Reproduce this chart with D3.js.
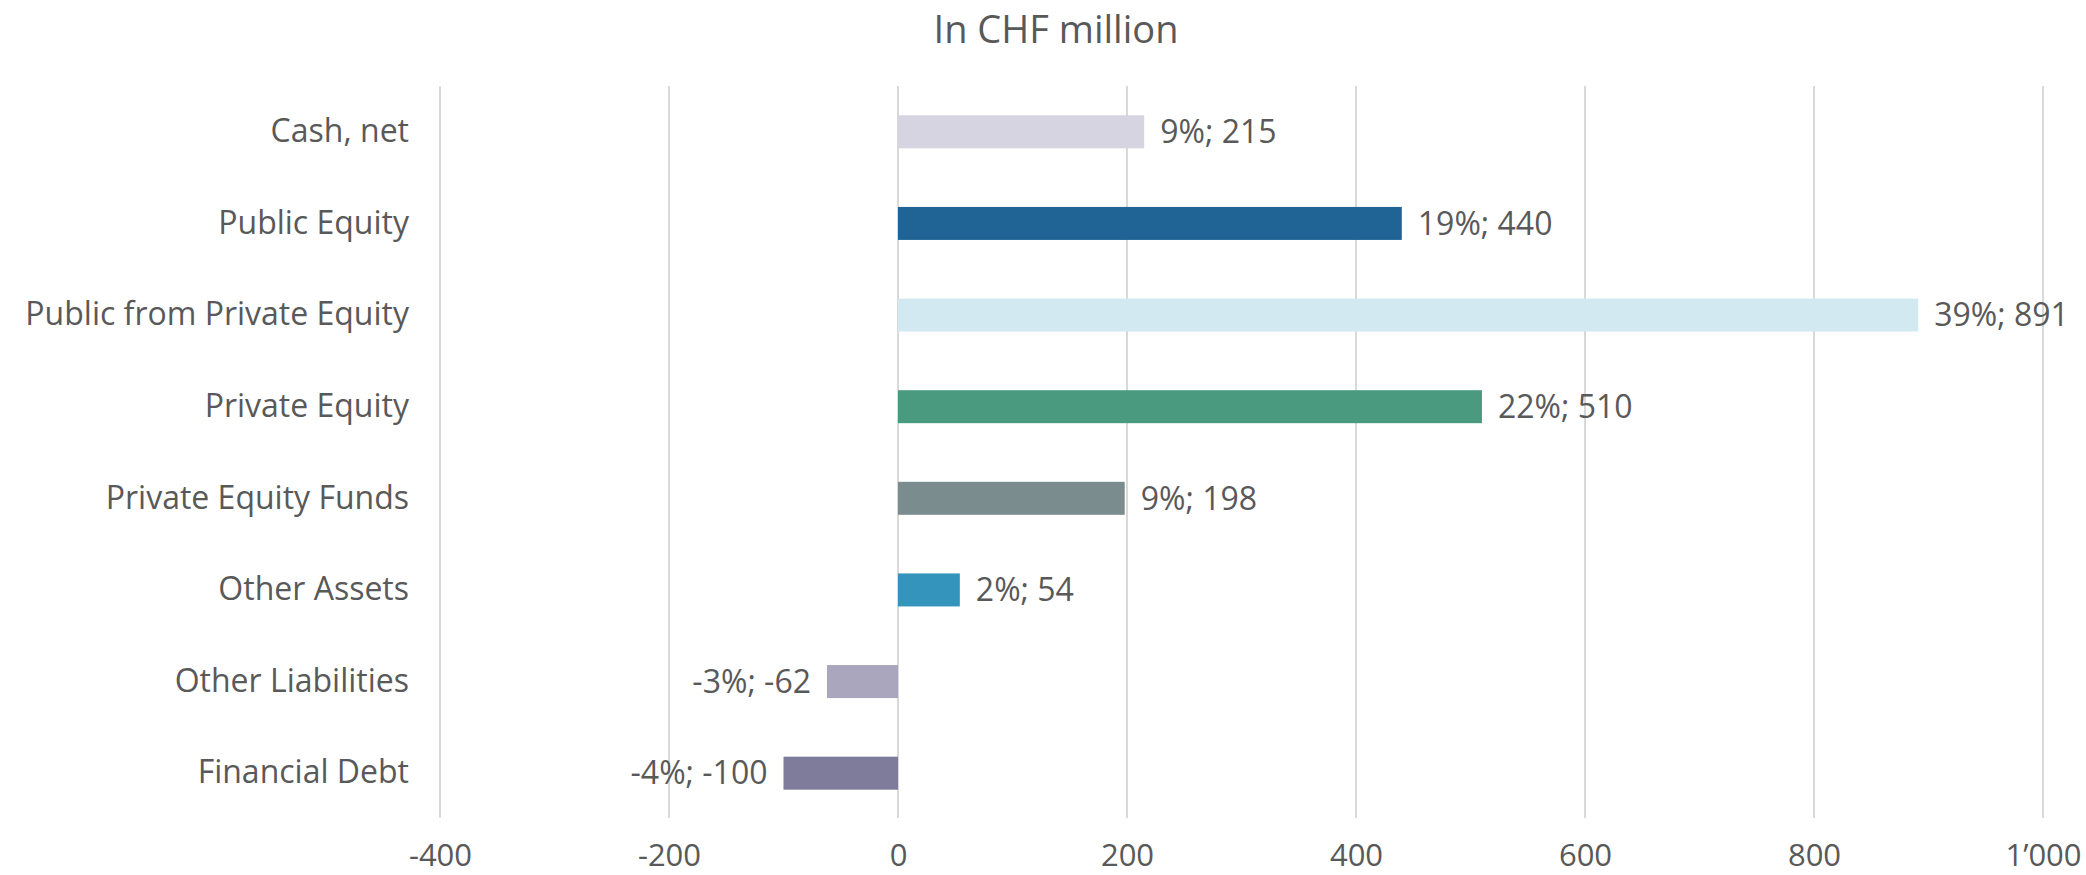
<!DOCTYPE html>
<html>
<head>
<meta charset="utf-8">
<script src="https://cdn.jsdelivr.net/npm/d3@7"></script>
<style>
  body { margin: 0; background: #fff; }
  text { font-family: "Open Sans", "Noto Sans", sans-serif; fill: #595959; }
</style>
</head>
<body>
<svg id="chart"></svg>
<script>
let categories = ['Cash, net', 'Public Equity', 'Public from Private Equity', 'Private Equity',
    'Private Equity Funds', 'Other Assets', 'Other Liabilities', 'Financial Debt'];
let values = [215, 440, 891, 510, 198, 54, -62, -100];
let shares = [9, 19, 39, 22, 9, 2, -3, -4];
let colors = ['#d5d4e0', '#1f6494', '#d3e9f2', '#4a9a80', '#7a8c8d', '#3494bc', '#a9a6bd', '#7f7b9b'];
let ticks = [-400, -200, 0, 200, 400, 600, 800, 1000];

let width = 2086;
let height = 875;
let fontSize = '32px';

let svg = d3.select('#chart')
    .attr('width', width)
    .attr('height', height);

let rows = categories.map(function (c, i) {
    return {name: c, value: values[i], share: shares[i], color: colors[i]};
});

let xScale = d3.scaleLinear()
    .domain([-400, 1000])
    .range([440, 2043]);

let yScale = d3.scaleBand()
    .domain(categories)
    .range([86, 819])
    .paddingInner(0.64)
    .paddingOuter(0.32);

// title
svg.append('text')
    .attr('x', 1056)
    .attr('y', 43)
    .attr('text-anchor', 'middle')
    .style('font-size', '38px')
    .text('In CHF million');

// vertical grid lines
svg.append('g')
    .selectAll('line')
    .data(ticks)
    .enter()
    .append('line')
    .attr('x1', d => xScale(d))
    .attr('x2', d => xScale(d))
    .attr('y1', 86)
    .attr('y2', 818)
    .attr('stroke', '#d9d9d9')
    .attr('stroke-width', 2);

// x axis labels (hyphen minus, apostrophe as thousands separator)
let fmt = d => String(d).replace(/(\d)(\d{3})$/, '$1\u2019$2');
let xAxis = d3.axisBottom(xScale)
    .tickValues(ticks)
    .tickFormat(fmt)
    .tickSize(0)
    .tickPadding(0);
let gx = svg.append('g')
    .attr('transform', 'translate(0,866)')
    .call(xAxis);
gx.select('.domain').remove();
gx.selectAll('text')
    .attr('dy', 0)
    .attr('y', 0)
    .style('font-size', '31px')
    .style('font-family', '"Open Sans", "Noto Sans", sans-serif')
    .attr('fill', '#595959');

// category labels
let yAxis = d3.axisLeft(yScale).tickSize(0).tickPadding(0);
let gy = svg.append('g')
    .attr('transform', 'translate(409,0)')
    .call(yAxis);
gy.select('.domain').remove();
gy.selectAll('text')
    .style('font-size', fontSize)
    .style('font-family', '"Open Sans", "Noto Sans", sans-serif')
    .attr('fill', '#595959');

// bars
svg.selectAll('rect.bar')
    .data(rows)
    .enter()
    .append('rect')
    .attr('class', 'bar')
    .attr('x', d => xScale(Math.min(0, d.value)))
    .attr('y', d => yScale(d.name))
    .attr('width', d => Math.abs(xScale(d.value) - xScale(0)))
    .attr('height', yScale.bandwidth())
    .style('fill', d => d.color);

// value labels
svg.selectAll('text.val')
    .data(rows)
    .enter()
    .append('text')
    .attr('class', 'val')
    .attr('x', d => d.value >= 0 ? xScale(d.value) + 16 : xScale(d.value) - 16)
    .attr('y', d => yScale(d.name) + yScale.bandwidth() / 2)
    .attr('dy', '0.35em')
    .attr('text-anchor', d => d.value >= 0 ? 'start' : 'end')
    .style('font-size', fontSize)
    .text(d => d.share + '%; ' + d.value);
</script>
</body>
</html>
